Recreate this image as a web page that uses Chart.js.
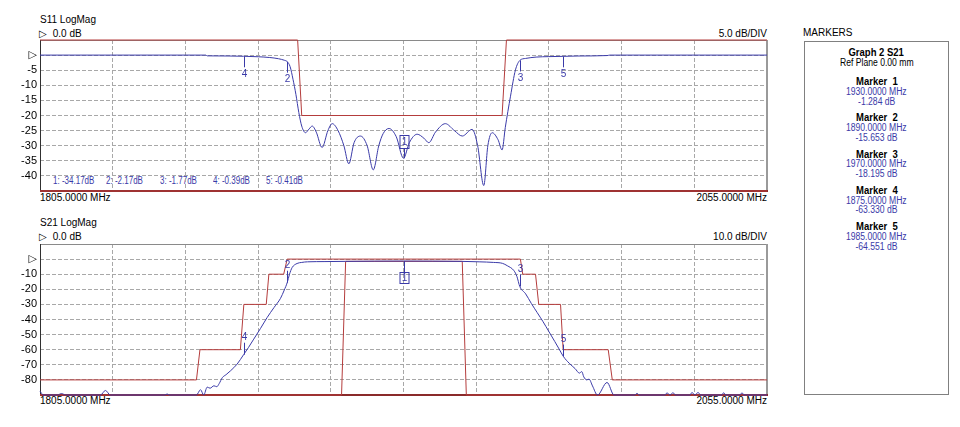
<!DOCTYPE html>
<html><head><meta charset="utf-8">
<script src="https://cdn.jsdelivr.net/npm/chart.js@4/dist/chart.umd.min.js"></script>
<style>
body{margin:0;background:#fff;width:960px;height:427px;overflow:hidden;position:relative;font-family:"Liberation Sans","DejaVu Sans",Arial,sans-serif;}
.t{position:absolute;font-size:10px;line-height:12px;color:#000;white-space:nowrap;}
.r{text-align:right;}
canvas{position:absolute;left:0;}
.ro{position:absolute;font-size:10px;line-height:12px;color:#3a3aa8;white-space:nowrap;transform:scaleX(0.8);transform-origin:left center;}
.pl{position:absolute;left:0;width:143px;text-align:center;font-size:10px;line-height:12px;white-space:nowrap;}
.pl span{display:inline-block;transform:scaleX(0.86);}
.pb{font-weight:bold;font-size:10px;}
.pb span{transform:scaleX(0.95);}
.pv{color:#3a3aa8;}
</style></head><body>
<div class="t" style="left:40px;top:14px">S11 LogMag</div>
<div class="t" style="left:39px;top:27.5px">▷<span style="margin-left:6px">0.0 dB</span></div>
<div class="t r" style="right:193px;top:27.5px">5.0 dB/DIV</div>
<div class="t" style="left:40px;top:192px">1805.0000 MHz</div>
<div class="t r" style="right:193px;top:192px">2055.0000 MHz</div>
<div class="t" style="left:40px;top:217px">S21 LogMag</div>
<div class="t" style="left:39px;top:231px">▷<span style="margin-left:6px">0.0 dB</span></div>
<div class="t r" style="right:193px;top:231px">10.0 dB/DIV</div>
<div class="t" style="left:40px;top:395px">1805.0000 MHz</div>
<div class="t r" style="right:193px;top:395px">2055.0000 MHz</div>
<div class="t" style="left:803px;top:27px">MARKERS</div>
<div id="panel" style="position:absolute;left:804px;top:41px;width:143px;height:352px;border:1px solid #808080;"></div>
<div id="readouts"></div>
<canvas id="c1" width="790" height="215" style="top:0px"></canvas>
<canvas id="c2" width="790" height="215" style="top:204px"></canvas>
<script>
// ---- data ----
const freqGrid = [1805,1830,1855,1880,1905,1930,1955,1980,2005,2030,2055];
const markerFreq = [1930,1890,1970,1875,1985];
const s11MarkerVal = [-34.17,-2.17,-1.77,-0.39,-0.41];
const s21MarkerVal = [-1.284,-15.653,-18.195,-63.330,-64.551];

const s11Freq = [1805,1862,1862.5,1870,1875,1880,1884,1887,1889,1890,1891,1892,1893,1894,1895,1896.3,1897.5,1898.6,1900,1902,1904,1905.5,1907.5,1909.5,1911.2,1913,1915.2,1917.5,1919.6,1921.5,1923,1925,1927.5,1930,1932,1934.7,1937,1938.7,1941,1944.4,1947.5,1950.2,1953.6,1955.5,1957.6,1959,1960.5,1962.5,1963.9,1965,1966.8,1968.5,1970,1972,1975.6,1980,1985,1990,2000,2001,2055];
const s11Mag  = [0,0,-0.25,-0.3,-0.39,-0.55,-0.8,-1.2,-1.7,-2.17,-3.8,-8,-13,-19,-23.5,-25.7,-24.5,-23.5,-25.5,-30.6,-25,-22.7,-25,-30,-36,-29,-26.8,-30,-38,-30,-26,-24.3,-27,-34.17,-29,-26.2,-27.5,-29,-25.5,-22.7,-25,-26.8,-24.6,-30,-43.2,-30,-25.7,-28,-31.4,-24,-13.6,-4.9,-1.77,-1.1,-0.66,-0.5,-0.41,-0.3,-0.15,0,0];

const s21Freq = [1805,1806.2,1811,1812.4,1813.8,1825.8,1827.5,1829.2,1848,1848.7,1849.4,1858.8,1860.2,1861.3,1862.5,1863.5,1864.8,1865.8,1866.6,1867.7,1869,1870.5,1872.8,1875,1876.7,1878.5,1880.8,1883.1,1885.5,1887.7,1889,1890,1890.8,1891.7,1893.4,1895,1897,1903,1910,1920,1930,1940,1950,1956,1961,1964,1965.7,1968,1969,1970,1972,1974,1976,1978,1980,1982,1983.5,1985,1987,1989,1990.5,1991.3,1992,1993,1993.8,1995,1996.7,2000,2002.4,2009.6,2010.3,2011,2020,2020.6,2021.6,2022.7,2023.5,2028.5,2029.2,2030.2,2031.3,2032.2,2039.4,2040.1,2040.8,2045.7,2046.4,2047.1,2055];
const s21Mag  = [-87.5,-90,-90,-89,-90,-90,-87,-90,-90,-89.3,-90,-90,-86.5,-90,-84.8,-85.5,-83.9,-84.5,-82.5,-78.5,-76.5,-74,-69.5,-63.33,-58.5,-53,-46,-38.7,-32,-26,-20.5,-15.65,-10,-5.6,-2.9,-2.2,-1.8,-1.65,-1.5,-1.35,-1.28,-1.35,-1.5,-1.8,-2.2,-2.8,-4.4,-7.7,-11.5,-18.2,-23,-29.5,-35.5,-41.5,-48,-54.5,-59.5,-64.55,-69,-72.5,-75.5,-74.5,-78,-80,-79.5,-84,-90,-81.7,-90,-90,-88.8,-90,-90,-88.5,-90,-88.5,-90,-90,-88.3,-90,-88.3,-90,-90,-88.5,-90,-90,-88.5,-90,-90];

const s11LimUpF = [1805,1893.6,1895,1963.9,1965.4,2055];
const s11LimUpV = [5,5,-20,-20,5,5];
const s11LimLoF = [1805,2055];
const s11LimLoV = [-45,-45];

const s21MaskF = [1805,1858.8,1860,1873.9,1875.1,1882.8,1883.7,1888.8,1890,1970.2,1971,1975.4,1976.5,1984,1984.9,2000.4,2001.8,2055];
const s21MaskV = [-80,-80,-60,-60,-30,-30,-10,-10,0,0,-10,-10,-30,-30,-60,-60,-80,-80];
const s21PassF = [1805,1908.7,1910.1,1950.2,1951.6,2055];
const s21PassV = [-90,-90,-1.5,-1.5,-90,-90];

// ---- drawing ----
const BLUE = '#3a3aa8', RED = '#b43c3c';
const FONT = '"Liberation Sans","DejaVu Sans",Arial,sans-serif';

const framePlugin = {
  id:'frame',
  beforeDatasetsDraw(chart){
    const a = chart.chartArea, ctx = chart.ctx;
    ctx.save();
    ctx.strokeStyle = '#8a8a8a'; ctx.lineWidth = 1;
    ctx.strokeRect(a.left+0.5, a.top+0.5, a.right-a.left-1, a.bottom-a.top-1);
    ctx.strokeStyle = '#9a9a9a'; ctx.lineWidth = 2;
    ctx.beginPath(); ctx.moveTo(a.right, a.top); ctx.lineTo(a.right, a.bottom); ctx.stroke();
    ctx.strokeStyle = '#303030'; ctx.lineWidth = 1;
    ctx.beginPath(); ctx.moveTo(a.left+0.5, a.top); ctx.lineTo(a.left+0.5, a.bottom); ctx.stroke();
    ctx.strokeStyle = '#8a2a2a'; ctx.lineWidth = 2;
    ctx.beginPath(); ctx.moveTo(a.left, a.bottom); ctx.lineTo(a.right+1, a.bottom); ctx.stroke();
    ctx.restore();
  }
};

function markerPlugin(vals, dir){
  return {
    id:'markers',
    afterDatasetsDraw(chart){
      const ctx = chart.ctx, x = chart.scales.x, y = chart.scales.y;
      ctx.save();
      ctx.strokeStyle = BLUE; ctx.fillStyle = BLUE; ctx.lineWidth = 1;
      ctx.font = '10px ' + FONT; ctx.textAlign = 'center'; ctx.textBaseline = 'middle';
      markerFreq.forEach((f,i)=>{
        const px = Math.round(x.getPixelForValue(f)) + 0.5;
        const py = y.getPixelForValue(vals[i]);
        if (i === 0) {
          let top, h;
          if (dir > 0) { h = 13; top = Math.round(py - 10 - h) + 0.5;
            ctx.beginPath(); ctx.moveTo(px, top + h); ctx.lineTo(px, py); ctx.stroke();
          } else { h = 11; top = Math.round(py + 10.5) + 0.5;
            ctx.beginPath(); ctx.moveTo(px, py); ctx.lineTo(px, top); ctx.stroke();
          }
          ctx.strokeRect(px - 4.5, top, 9, h);
          ctx.fillText('1', px, top + h/2 + 0.5);
        } else {
          ctx.beginPath();
          if (dir > 0) { ctx.moveTo(px, py); ctx.lineTo(px, py + 11); }
          else { ctx.moveTo(px, py); ctx.lineTo(px, py - 12); }
          ctx.stroke();
          ctx.fillText(String(i+1), px, dir > 0 ? py + 18 : py - 17);
        }
      });
      ctx.restore();
    }
  };
}

function pts(f, v){ return f.map((q,i)=>({x:q, y:v[i]})); }

function buildChart(id, cfg){
  const ds = [];
  cfg.limits.forEach(l => ds.push({data: pts(l[0], l[1]), borderColor: RED, borderWidth: 1, pointRadius: 0, tension: 0, clip: 3, order: 1}));
  ds.push({data: pts(cfg.f, cfg.v), borderColor: BLUE, borderWidth: 1, pointRadius: 0, cubicInterpolationMode: 'monotone', clip: 2, order: 0});
  return new Chart(document.getElementById(id), {
    type: 'line',
    data: {datasets: ds},
    options: {
      responsive: false, animation: false, events: [],
      layout: {padding: {top: 40, right: 23, bottom: 24, left: 0}},
      plugins: {legend: {display: false}, tooltip: {enabled: false}},
      scales: {
        x: {type: 'linear', min: 1805, max: 2055,
            afterBuildTicks: s => { s.ticks = freqGrid.map(v => ({value: v})); },
            afterFit: s => { s.height = 0; },
            ticks: {display: false, autoSkip: false},
            grid: {color: '#a8a8a8', drawTicks: false},
            border: {display: false, dash: [4,2]}},
        y: {type: 'linear', min: cfg.min, max: cfg.max,
            afterFit: s => { s.width = 40; },
            ticks: {stepSize: cfg.step, autoSkip: false, color: '#000', font: {family: FONT, size: 11}, padding: 3,
              callback: v => v === 0 ? '▷' : (v === cfg.min || v === cfg.max ? '' : String(v))},
            grid: {color: '#a8a8a8', drawTicks: false},
            border: {display: false, dash: [4,2]}}
      }
    },
    plugins: [framePlugin, markerPlugin(cfg.mv, cfg.dir)]
  });
}

buildChart('c1', {f: s11Freq, v: s11Mag, min: -45, max: 5, step: 5, mv: s11MarkerVal, dir: 1,
  limits: [[s11LimUpF, s11LimUpV], [s11LimLoF, s11LimLoV]]});
buildChart('c2', {f: s21Freq, v: s21Mag, min: -90, max: 10, step: 10, mv: s21MarkerVal, dir: -1,
  limits: [[s21MaskF, s21MaskV], [s21PassF, s21PassV]]});

// readouts in S11 graph
const ro = document.getElementById('readouts');
s11MarkerVal.forEach((v,i)=>{
  const d = document.createElement('div');
  d.className = 'ro';
  d.style.left = (53 + 53.3*i) + 'px'; d.style.top = '175px';
  d.textContent = (i+1) + ': ' + v.toFixed(2) + 'dB';
  ro.appendChild(d);
});

// markers panel
const panel = document.getElementById('panel');
function pline(txt, cy, cls){
  const d = document.createElement('div');
  d.className = 'pl ' + cls;
  d.style.top = (cy - 41 - 6) + 'px';
  const s = document.createElement('span'); s.textContent = txt; d.appendChild(s);
  panel.appendChild(d);
}
pline('Graph 2 S21', 52.3, 'pb');
pline('Ref Plane 0.00 mm', 62.3, '');
markerFreq.forEach((f,i)=>{
  const b = 81 + 36.25*i;
  pline('Marker\u00a0\u00a0' + (i+1), b, 'pb');
  pline(f.toFixed(4) + ' MHz', b + 9.8, 'pv');
  pline(s21MarkerVal[i].toFixed(3) + ' dB', b + 19.7, 'pv');
});
</script>
</body></html>
